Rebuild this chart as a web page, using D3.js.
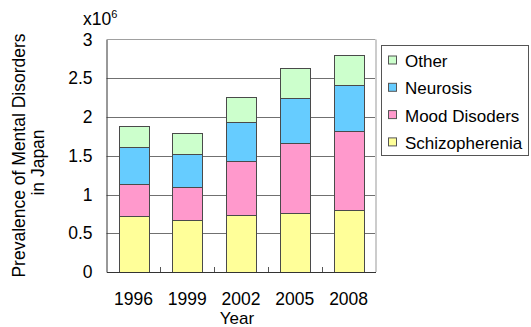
<!DOCTYPE html>
<html>
<head>
<meta charset="utf-8">
<script src="https://cdn.jsdelivr.net/npm/d3@7/dist/d3.min.js"></script>
<style>
  html, body { margin: 0; padding: 0; background: #fff; }
  svg { display: block; font-family: "Liberation Sans", Arial, sans-serif; }
</style>
</head>
<body>
<svg id="chart" width="531" height="327"></svg>
<script>
// Prevalence of mental disorders in Japan (millions of patients)
const years = ["1996", "1999", "2002", "2005", "2008"];
const schizophrenia = [0.72, 0.665, 0.73, 0.755, 0.795];
const moodDisorders = [0.42, 0.435, 0.70, 0.915, 1.025];
const neurosis = [0.475, 0.42, 0.50, 0.575, 0.59];
const other = [0.265, 0.28, 0.33, 0.385, 0.395];
const yTicks = [0, 0.5, 1, 1.5, 2, 2.5, 3];

const seriesNames = ["Schizopherenia", "Mood Disoders", "Neurosis", "Other"];
const seriesColors = ["#FFFF99", "#FF99CC", "#66CCFF", "#CCFFCC"];

const rows = years.map((yr, i) => ({
  year: yr,
  "Schizopherenia": schizophrenia[i],
  "Mood Disoders": moodDisorders[i],
  "Neurosis": neurosis[i],
  "Other": other[i]
}));

const svg = d3.select("#chart");
const plotLeft = 106.5, plotRight = 375.5, plotTop = 39.5, plotBottom = 272;

const x = d3.scaleBand().domain(years).range([plotLeft, plotRight])
  .paddingInner(0.45).paddingOuter(0.225);
const y = d3.scaleLinear().domain([0, 3]).range([plotBottom, plotTop]);
const color = d3.scaleOrdinal().domain(seriesNames).range(seriesColors);

// gridlines
svg.append("g").selectAll("line")
  .data(yTicks.filter(t => t > 0 && t < 3))
  .join("line")
  .attr("x1", plotLeft).attr("x2", plotRight)
  .attr("y1", d => Math.round(y(d)) + 0.5).attr("y2", d => Math.round(y(d)) + 0.5)
  .attr("stroke", "#707070").attr("stroke-width", 1);

// plot frame: top and right edges
svg.append("line").attr("x1", plotLeft).attr("x2", plotRight)
  .attr("y1", plotTop).attr("y2", plotTop).attr("stroke", "#a0a0a0");
svg.append("line").attr("x1", plotRight + 0.5).attr("x2", plotRight + 0.5)
  .attr("y1", plotTop).attr("y2", plotBottom).attr("stroke", "#cccccc").attr("stroke-width", 2);

// stacked bars
const stack = d3.stack().keys(seriesNames);
const layers = stack(rows);
svg.append("g").selectAll("g")
  .data(layers)
  .join("g")
  .attr("fill", d => color(d.key))
  .selectAll("rect")
  .data(d => d)
  .join("rect")
  .attr("x", d => Math.round(x(d.data.year)) + 0.5)
  .attr("width", Math.round(x.bandwidth()))
  .attr("y", d => Math.round(y(d[1])) + 0.5)
  .attr("height", d => Math.round(y(d[0])) - Math.round(y(d[1])))
  .attr("stroke", "#4a4a4a").attr("stroke-width", 1);

// y axis
const yAxis = d3.axisLeft(y).tickValues(yTicks).tickSize(0).tickPadding(14)
  .tickFormat(d3.format("~g"));
svg.append("g").attr("transform", `translate(${plotLeft},0)`).call(yAxis)
  .call(g => g.select(".domain").attr("stroke", "#333"))
  .selectAll("text").attr("font-size", "17.5px").attr("fill", "#000")
  .attr("font-family", "Liberation Sans, Arial, sans-serif");

// x axis with inward ticks at category boundaries
const xAxis = d3.axisBottom(x).tickSize(0).tickPadding(20.5);
svg.append("g").attr("transform", `translate(0,${plotBottom})`).call(xAxis)
  .call(g => g.select(".domain").attr("stroke", "#333"))
  .selectAll("text").attr("font-size", "17.5px").attr("fill", "#000")
  .attr("font-family", "Liberation Sans, Arial, sans-serif");

svg.append("g").selectAll("line")
  .data(years.slice(1))
  .join("line")
  .attr("x1", d => Math.round(x(d) - x.step() * x.paddingInner() / 2) + 0.5)
  .attr("x2", d => Math.round(x(d) - x.step() * x.paddingInner() / 2) + 0.5)
  .attr("y1", plotBottom - 5).attr("y2", plotBottom)
  .attr("stroke", "#555");

// axis titles
svg.append("text").attr("x", 237).attr("y", 324)
  .attr("text-anchor", "middle").attr("font-size", "17px").text("Year");

const yt = svg.append("g");
yt.append("text").attr("transform", "translate(25,155.5) rotate(-90)")
  .attr("text-anchor", "middle").attr("font-size", "17.5px")
  .text("Prevalence of Mental Disorders");
yt.append("text").attr("transform", "translate(44,162.5) rotate(-90)")
  .attr("text-anchor", "middle").attr("font-size", "17.5px")
  .text("in Japan");

// scale multiplier
const mult = svg.append("text").attr("x", 83).attr("y", 25).attr("font-size", "17.5px");
mult.append("tspan").text("x10");
mult.append("tspan").attr("dy", -7).attr("font-size", "11px").text("6");

// legend
const legend = svg.append("g");
legend.append("rect").attr("x", 381.5).attr("y", 45.5).attr("width", 147).attr("height", 110)
  .attr("fill", "#fff").attr("stroke", "#555");
const legendOrder = seriesNames.slice().reverse();
const items = legend.selectAll("g.item").data(legendOrder).join("g")
  .attr("class", "item")
  .attr("transform", (d, i) => `translate(0,${60.5 + i * 27.3})`);
items.append("rect").attr("x", 388.5).attr("y", -4.5).attr("width", 8).attr("height", 8)
  .attr("fill", d => color(d)).attr("stroke", "#555");
items.append("text").attr("x", 405).attr("y", 6.5).attr("font-size", "17px").text(d => d);
</script>
</body>
</html>
